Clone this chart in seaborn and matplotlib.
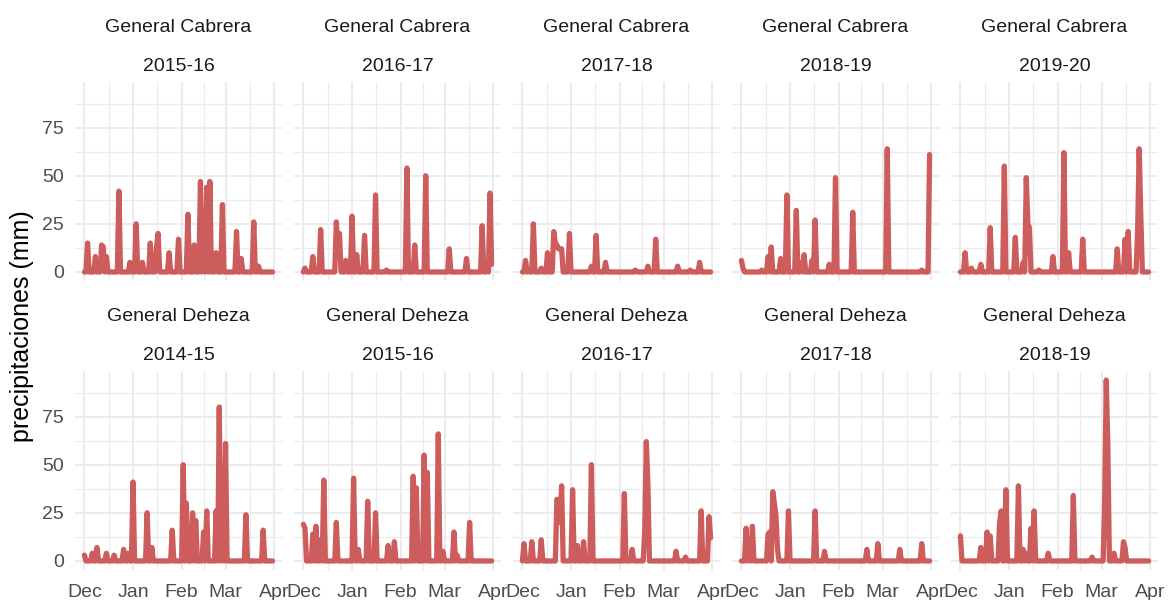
import matplotlib
matplotlib.use("Agg")
import matplotlib.pyplot as plt
import matplotlib.dates as mdates
from matplotlib.ticker import FixedLocator
import numpy as np
import pandas as pd
import seaborn as sns

# panels, in facet order
stations = ["General Cabrera"] * 5 + ["General Deheza"] * 5
seasons = ["2015-16", "2016-17", "2017-18", "2018-19", "2019-20",
           "2014-15", "2015-16", "2016-17", "2017-18", "2018-19"]

# rainy days (month-day) and precipitation in mm; every other day is 0
cab_1516_days = ["12-03", "12-08", "12-12", "12-13", "12-15", "12-23", "12-30", "01-03", "01-07",
                 "01-12", "01-16", "01-17", "01-24", "01-30", "02-05", "02-09", "02-13", "02-15",
                 "02-17", "02-19", "02-23", "02-27", "03-08", "03-11", "03-19", "03-22"]
cab_1516_mm = [15, 8, 14, 13, 8, 42, 5, 25, 5, 15, 13, 20, 10, 17, 30, 14, 47, 20, 44, 47, 10, 35,
               21, 7, 26, 3]

cab_1617_days = ["12-02", "12-07", "12-12", "12-22", "12-23", "12-24", "12-28", "01-01", "01-04",
                 "01-09", "01-16", "01-23", "02-05", "02-10", "02-17", "03-04", "03-15", "03-25",
                 "03-28", "03-30", "03-31"]
cab_1617_mm = [2, 8, 22, 26, 10, 20, 6, 29, 9, 19, 40, 1, 54, 14, 50, 12, 7, 24, 3, 41, 4]

cab_1718_days = ["12-03", "12-05", "12-08", "12-13", "12-17", "12-21", "12-22", "12-23", "12-24",
                 "12-25", "12-26", "12-31", "01-14", "01-17", "01-23", "02-11", "02-19", "02-24",
                 "03-10", "03-18", "03-24"]
cab_1718_mm = [6, 1, 25, 2, 10, 21, 15, 14, 12, 12, 12, 20, 3, 19, 5, 1, 3, 17, 3, 1, 5]

cab_1819_days = ["12-01", "12-02", "12-14", "12-18", "12-20", "12-26", "12-30", "01-05", "01-08",
                 "01-10", "01-15", "01-17", "01-26", "01-30", "02-10", "03-04", "03-26", "03-31"]
cab_1819_mm = [6, 2, 1, 8, 13, 7, 40, 32, 5, 9, 6, 27, 4, 49, 31, 64, 1, 61]

cab_1920_days = ["12-04", "12-08", "12-14", "12-20", "12-29", "01-05", "01-10", "01-12", "01-13",
                 "01-14", "01-20", "01-29", "02-05", "02-08", "02-17", "03-11", "03-16", "03-18",
                 "03-24", "03-25", "03-26"]
cab_1920_mm = [10, 2, 4, 23, 55, 18, 5, 49, 25, 23, 1, 8, 62, 10, 17, 12, 17, 21, 21, 64, 30]

deh_1415_days = ["12-01", "12-06", "12-09", "12-15", "12-20", "12-26", "12-29", "01-01", "01-10",
                 "01-13", "01-26", "02-02", "02-04", "02-08", "02-10", "02-15", "02-17", "02-23",
                 "02-25", "02-27", "03-01", "03-14", "03-25"]
deh_1415_mm = [3, 4, 7, 4, 3, 6, 4, 41, 25, 7, 16, 50, 30, 25, 21, 15, 26, 26, 80, 30, 61, 24, 16]

deh_1516_days = ["12-01", "12-02", "12-07", "12-09", "12-12", "12-14", "12-22", "01-02", "01-05",
                 "01-11", "01-16", "01-24", "01-28", "02-09", "02-11", "02-16", "02-18", "02-25",
                 "02-28", "03-07", "03-09", "03-17"]
deh_1516_mm = [19, 17, 14, 18, 11, 42, 20, 43, 6, 31, 25, 8, 10, 44, 38, 55, 46, 66, 5, 15, 3, 20]

deh_1617_days = ["12-02", "12-07", "12-13", "12-23", "12-24", "12-25", "12-26", "01-02", "01-05",
                 "01-09", "01-14", "02-04", "02-09", "02-17", "02-18", "02-19", "03-09", "03-15",
                 "03-25", "03-30", "03-31"]
deh_1617_mm = [9, 10, 11, 32, 30, 20, 39, 37, 8, 10, 50, 35, 6, 15, 62, 40, 5, 2, 26, 23, 12]

deh_1718_days = ["12-04", "12-06", "12-08", "12-18", "12-19", "12-21", "12-22", "12-23", "12-24",
                 "12-31", "01-17", "01-23", "02-19", "02-26", "03-12", "03-26"]
deh_1718_mm = [17, 8, 18, 14, 15, 36, 30, 24, 6, 26, 26, 5, 6, 9, 6, 9]

deh_1819_days = ["12-01", "12-14", "12-18", "12-20", "12-26", "12-27", "12-30", "01-07", "01-10",
                 "01-12", "01-15", "01-17", "01-26", "02-11", "02-23", "03-03", "03-04", "03-05",
                 "03-09", "03-15", "03-16"]
deh_1819_mm = [13, 7, 15, 13, 20, 26, 37, 39, 6, 4, 17, 26, 4, 34, 2, 30, 94, 60, 4, 10, 7]

rain_days = [cab_1516_days, cab_1617_days, cab_1718_days, cab_1819_days, cab_1920_days,
             deh_1415_days, deh_1516_days, deh_1617_days, deh_1718_days, deh_1819_days]
rain_mm = [cab_1516_mm, cab_1617_mm, cab_1718_mm, cab_1819_mm, cab_1920_mm,
           deh_1415_mm, deh_1516_mm, deh_1617_mm, deh_1718_mm, deh_1819_mm]


def season_frame(days, mm, station, season):
    # all seasons on the same dummy Dec-Mar axis
    fechas = pd.date_range("2001-12-01", "2002-03-31", freq="D")
    serie = pd.Series(0.0, index=fechas)
    for d, v in zip(days, mm):
        year = 2001 if d.startswith("12") else 2002
        serie[pd.Timestamp(f"{year}-{d}")] = v
    return pd.DataFrame({"fecha": fechas, "pp": serie.values,
                         "panel": f"{station}\n{season}"})


frames = [season_frame(d, m, s, t) for d, m, s, t in zip(rain_days, rain_mm, stations, seasons)]
df = pd.concat(frames, ignore_index=True)
order = [f"{s}\n{t}" for s, t in zip(stations, seasons)]

sns.set_theme(style="white")
plt.rcParams["font.family"] = ["Liberation Sans", "DejaVu Sans"]

g = sns.relplot(data=df, x="fecha", y="pp", col="panel", col_wrap=5, col_order=order,
                kind="line", color="#CD5C5C", linewidth=3.8, estimator=None,
                height=2.0, aspect=1.04)

fig = g.figure
fig.set_size_inches(11.68, 6)
fig.subplots_adjust(left=75 / 1168, right=1158 / 1168, bottom=1 - 570 / 600,
                    top=1 - 82 / 600, wspace=0.058, hspace=0.452)

x0 = pd.Timestamp("2001-12-01")
x1 = pd.Timestamp("2002-03-31")
pad = (x1 - x0) * 0.05
majors = mdates.date2num(pd.date_range("2001-12-01", "2002-04-01", freq="MS"))
minors = (majors[:-1] + majors[1:]) / 2

ymax = df["pp"].max()
g.set_axis_labels("", "")

for i, (ax, name) in enumerate(zip(g.axes.flat, order)):
    ax.set_title(name, fontsize=14, color="#1A1A1A", linespacing=2.65, pad=8)
    ax.set_xlim(x0 - pad, x1 + pad)
    ax.set_ylim(-0.05 * ymax, 1.05 * ymax)
    ax.xaxis.set_major_locator(FixedLocator(majors))
    ax.xaxis.set_minor_locator(FixedLocator(minors))
    ax.xaxis.set_major_formatter(mdates.DateFormatter("%b"))
    ax.yaxis.set_major_locator(FixedLocator([0, 25, 50, 75]))
    ax.yaxis.set_minor_locator(FixedLocator([12.5, 37.5, 62.5, 87.5]))
    ax.grid(which="major", color="#EBEBEB", linewidth=1.4)
    ax.grid(which="minor", color="#EBEBEB", linewidth=0.8)
    ax.set_axisbelow(True)
    ax.tick_params(which="both", length=0, labelsize=14, labelcolor="#4D4D4D")
    ax.tick_params(axis="x", pad=10, labelbottom=(i >= 5))
    ax.tick_params(axis="y", pad=8, labelleft=(i % 5 == 0))
    for sp in ax.spines.values():
        sp.set_visible(False)

fig.text(22 / 1168, 1 - 326 / 600, "precipitaciones (mm)", rotation=90,
         ha="center", va="center", fontsize=18, color="black")

fig.savefig("out.png", dpi=100)
